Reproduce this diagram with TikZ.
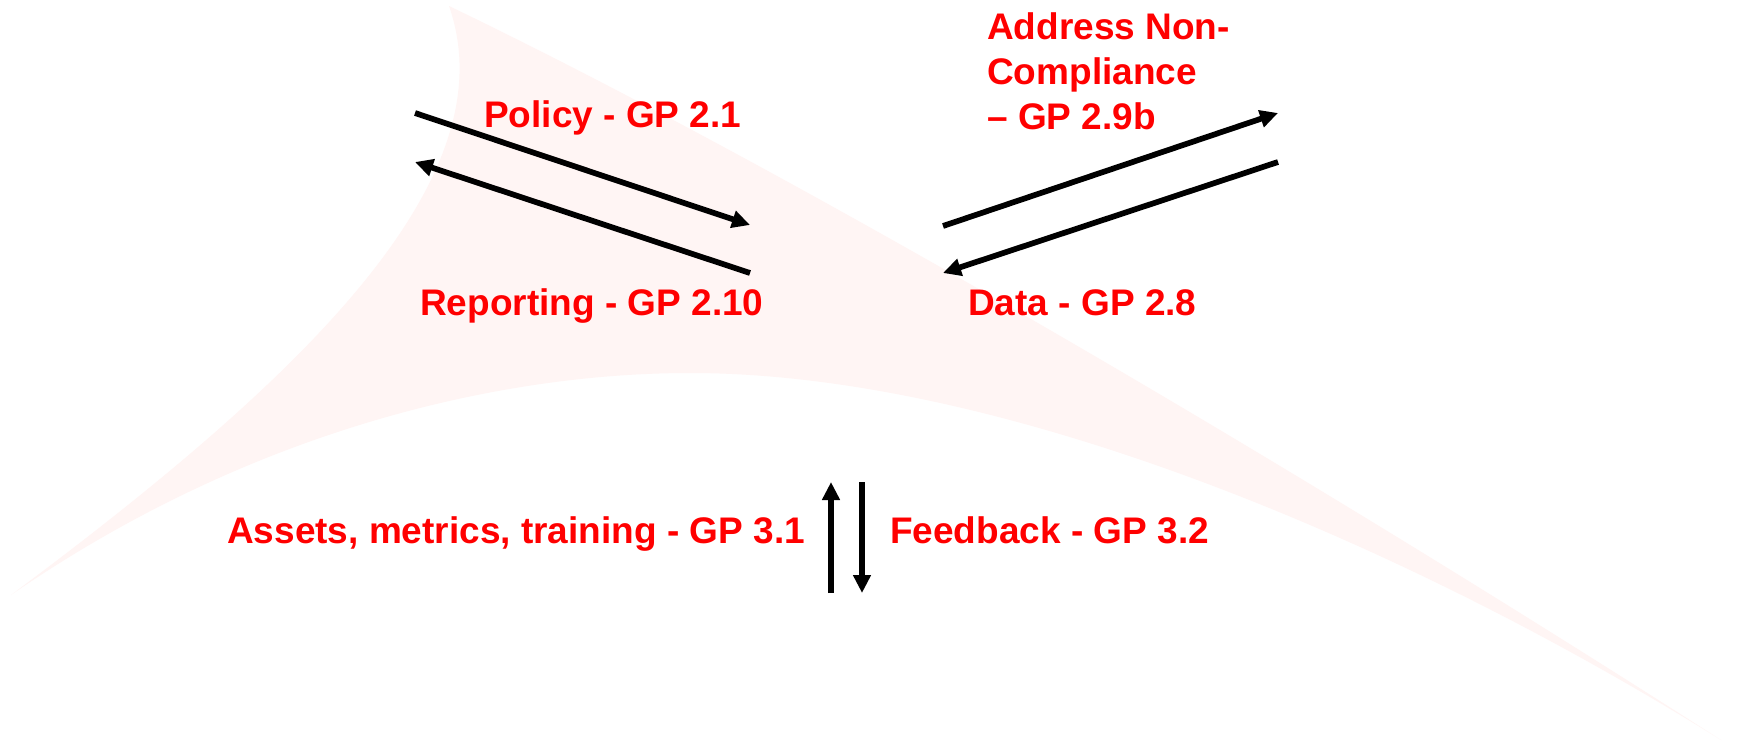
\documentclass[tikz,border=0pt]{standalone}
\usepackage{fontspec}
\setmainfont{Liberation Sans}
\usetikzlibrary{arrows.meta}
\definecolor{sailshade}{RGB}{255,245,244}
\definecolor{labelred}{RGB}{255,0,0}
\tikzset{
  flow/.style={line width=5.7pt, -{Triangle[length=18pt,width=17pt]}},
  lbl/.style={text=labelred, font=\fontsize{37}{45}\selectfont\bfseries,
    inner sep=0pt, anchor=base west},
}
\begin{document}
\begin{tikzpicture}[x=1pt,y=-1pt]
\useasboundingbox (0,0) rectangle (1747,744);
\fill[white] (0,0) rectangle (1747,744);

% faint sail-shaped backdrop
\fill[sailshade] (449,6) .. controls (800,175) and (1300,470) .. (1721,740)
   .. controls (1400,540) and (1000,373) .. (690,373)
   .. controls (500,373) and (250,430) .. (11,595)
   .. controls (300,380) and (510,180) .. (449,6) -- cycle;

% labels
\node[lbl] (policy) at (484,127) {Policy - GP 2.1};
\node[lbl] (report) at (420,315) {Reporting - GP 2.10};
\node[lbl, anchor=north west, align=left] (address) at (987,12)
  {Address Non-\\Compliance\\– GP 2.9b};
\node[lbl] (data) at (968,315) {Data - GP 2.8};
\node[lbl] (assets) at (227,543) {Assets, metrics, training - GP 3.1};
\node[lbl] (feedback) at (890,543) {Feedback - GP 3.2};

% arrow end points
\coordinate (p1) at (415,113);  \coordinate (p2) at (750,225);
\coordinate (r1) at (750,273);  \coordinate (r2) at (415,162);
\coordinate (a1) at (943,226);  \coordinate (a2) at (1278,113);
\coordinate (d1) at (1278,162); \coordinate (d2) at (943,273);
\coordinate (u1) at (831,593);  \coordinate (u2) at (831,482);
\coordinate (f1) at (862,482);  \coordinate (f2) at (862,593);

% arrows
\draw[flow] (p1) -- (p2);
\draw[flow] (r1) -- (r2);
\draw[flow] (a1) -- (a2);
\draw[flow] (d1) -- (d2);
\draw[flow] (u1) -- (u2);
\draw[flow] (f1) -- (f2);
\end{tikzpicture}
\end{document}
